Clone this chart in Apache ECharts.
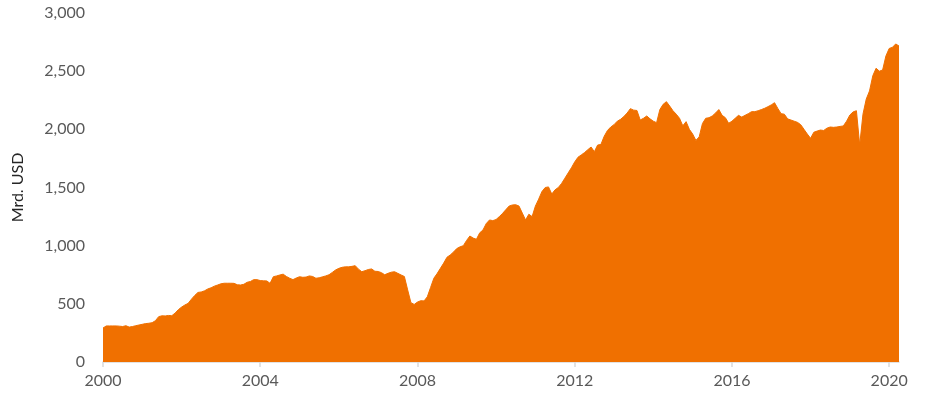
<!DOCTYPE html>
<html>
<head>
<meta charset="utf-8">
<script src="https://cdn.jsdelivr.net/npm/echarts@6/dist/echarts.min.js"></script>
<style>
html,body{margin:0;padding:0;background:#fff;}
#chart{width:940px;height:408px;}
</style>
</head>
<body>
<div id="chart"></div>
<script>
// Monthly categories Jan 2000 .. Apr 2020
const startYear = 2000;
const monthCount = 244;
const categories = [];
for (let i = 0; i < monthCount; i++) {
  const y = startYear + Math.floor(i / 12);
  const m = (i % 12) + 1;
  categories.push(y + '-' + (m < 10 ? '0' + m : '' + m));
}
const tickYears = ['2000', '2004', '2008', '2012', '2016', '2020'];
const yTicks = [0, 500, 1000, 1500, 2000, 2500, 3000];
const seriesName = 'Mrd. USD';
const values = [
  292,310,310,310,310,308,305,312,300,305,312,318,
  324,330,333,338,355,390,397,396,400,398,420,450,
  472,490,504,540,572,598,602,612,628,638,652,662,
  672,677,677,677,676,664,662,668,685,692,708,708,
  700,698,697,676,733,740,748,755,735,720,708,722,
  733,728,730,740,735,720,724,732,740,750,770,791,
  805,814,818,818,822,828,798,776,785,795,800,780,
  778,768,750,762,772,776,762,748,735,620,510,495,
  515,527,525,560,640,720,760,805,850,900,920,945,
  975,990,1000,1045,1083,1065,1055,1110,1135,1190,1221,1215,
  1225,1250,1278,1310,1341,1350,1352,1340,1280,1221,1270,1250,
  1340,1400,1465,1500,1505,1444,1480,1500,1535,1580,1625,1670,
  1720,1760,1780,1800,1825,1848,1808,1865,1870,1940,1990,2020,
  2040,2070,2086,2110,2140,2178,2165,2162,2080,2095,2115,2090,
  2070,2057,2170,2215,2238,2200,2160,2130,2095,2030,2066,2000,
  1960,1905,1935,2050,2095,2100,2115,2140,2170,2120,2100,2052,
  2070,2095,2120,2105,2120,2135,2152,2152,2160,2170,2181,2195,
  2210,2229,2180,2135,2130,2090,2080,2070,2060,2040,2000,1960,
  1923,1975,1985,1994,1990,2010,2020,2017,2020,2025,2029,2070,
  2123,2150,2160,1865,2130,2260,2330,2460,2525,2500,2510,2630,
  2695,2705,2734,2716
];

const isTick = (idx, val) => val.slice(5) === '01' && tickYears.indexOf(val.slice(0, 4)) >= 0;

const chart = echarts.init(document.getElementById('chart'), null, {renderer: 'canvas'});
chart.setOption({
  animation: false,
  backgroundColor: '#ffffff',
  grid: {left: 103, right: 41, top: 13, bottom: 46, containLabel: false, outerBoundsMode: 'none'},
  xAxis: {
    type: 'category',
    data: categories,
    boundaryGap: false,
    axisLine: {show: true, lineStyle: {color: '#d9d9d9', width: 1.5}},
    axisTick: {show: true, interval: isTick, length: 5, lineStyle: {color: '#d9d9d9', width: 1.5}},
    axisLabel: {
      interval: isTick,
      formatter: v => v.slice(0, 4),
      color: '#595959',
      fontFamily: 'Lato, "Open Sans", sans-serif',
      fontSize: 16,
      margin: 11
    },
    splitLine: {show: false}
  },
  yAxis: {
    type: 'value',
    min: yTicks[0],
    max: yTicks[yTicks.length - 1],
    interval: 500,
    name: seriesName,
    nameLocation: 'middle',
    nameGap: 77,
    nameRotate: 90,
    nameTextStyle: {color: '#262626', fontFamily: 'Lato, "Open Sans", sans-serif', fontSize: 16},
    axisLine: {show: false},
    axisTick: {show: false},
    splitLine: {show: false},
    axisLabel: {
      color: '#595959',
      fontFamily: 'Lato, "Open Sans", sans-serif',
      fontSize: 16,
      margin: 18,
      formatter: v => v.toLocaleString('en-US')
    }
  },
  series: [{
    name: seriesName,
    type: 'line',
    data: values,
    symbol: 'none',
    smooth: false,
    lineStyle: {width: 1, color: '#F07000'},
    areaStyle: {color: '#F07000', opacity: 1}
  }]
});
</script>
</body>
</html>
